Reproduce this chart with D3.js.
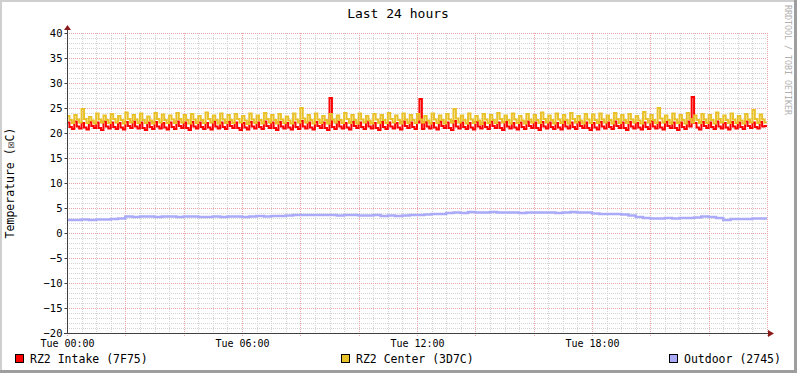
<!DOCTYPE html>
<html>
<head>
<meta charset="utf-8">
<script src="https://d3js.org/d3.v7.min.js"></script>
<style>
  body { margin: 0; background: #fff; }
  svg text { font-family: "DejaVu Sans Mono", monospace; }
</style>
</head>
<body>
<div id="chart"></div>
<script>
// 5-minute samples starting Tue 00:00, three per ~15 min cycle
var centerVals = [
  23.4,22.6,22.0, 23.6,22.7,22.1, 24.8,22.8,22.0, 23.2,22.5,21.9, 23.9,22.7,22.1, 23.5,22.6,22.0,
  23.8,22.8,22.1, 23.4,22.6,21.9, 24.1,22.8,22.1, 23.6,22.7,22.0, 23.9,22.6,22.0, 23.3,22.5,21.9,
  24.0,22.8,22.1, 23.7,22.6,22.0, 23.5,22.7,22.0, 24.0,22.8,22.1, 23.6,22.6,21.9, 23.8,22.7,22.0,
  23.4,22.6,22.0, 24.1,22.8,22.1, 23.5,22.6,21.9, 23.9,22.7,22.0, 23.6,22.6,22.0, 23.8,22.8,22.1,
  23.4,22.5,21.8, 23.9,22.7,22.0, 23.5,22.6,21.9, 24.0,22.8,22.1, 23.6,22.6,21.9, 23.8,22.7,22.0,
  23.3,22.5,21.9, 23.9,22.7,22.1, 25.0,22.9,22.1, 23.6,22.6,21.9, 23.9,22.7,22.0, 23.4,22.6,21.9,
  23.8,22.7,22.1, 23.5,22.6,22.0, 24.0,22.8,22.0, 23.6,22.6,21.9, 23.9,22.7,22.1, 23.4,22.5,21.9,
  23.8,22.7,22.0, 23.6,22.6,22.0, 24.0,22.8,22.1, 23.5,22.6,21.9, 23.9,22.7,22.0, 23.6,22.6,22.0,
  23.8,22.7,22.1, 23.4,22.5,21.9, 23.9,22.7,22.0, 23.5,22.6,21.9, 23.8,22.7,22.1, 24.8,22.9,22.1,
  23.5,22.6,21.9, 23.9,22.7,22.0, 23.4,22.5,21.8, 23.8,22.7,22.0, 23.6,22.6,22.0, 24.0,22.8,22.1,
  23.5,22.6,21.9, 23.9,22.7,22.0, 23.4,22.5,21.9, 23.8,22.7,22.1, 23.6,22.6,22.0, 24.1,22.8,22.1,
  23.5,22.6,21.9, 23.9,22.7,22.0, 23.6,22.6,21.9, 24.0,22.8,22.1, 23.4,22.5,21.9, 23.8,22.7,22.0,
  23.7,22.6,22.0, 23.9,22.7,22.1, 23.5,22.6,21.9, 24.0,22.8,22.0, 23.6,22.6,22.0, 23.8,22.7,22.1,
  23.4,22.5,21.9, 24.2,22.8,22.1, 23.6,22.6,22.0, 25.0,22.9,22.1, 23.5,22.6,21.9, 23.9,22.7,22.0,
  23.6,22.6,21.9, 24.0,22.8,22.1, 23.5,22.6,22.0, 23.8,22.7,22.0, 23.6,22.6,21.9, 24.1,22.8,22.1,
  23.5,22.6,22.0, 23.9,22.7,22.0, 23.4,22.5,21.9, 23.8,22.7,22.1, 24.6,22.8,22.0, 23.7,22.7,22.1
];

var intakeVals = [
  22.1,21.2,20.8, 22.3,21.3,20.9, 22.0,21.1,20.7, 22.2,21.4,21.0, 22.1,21.0,20.6, 22.3,21.3,20.9,
  22.1,21.2,20.8, 22.0,21.1,20.7, 22.2,21.4,21.0, 22.3,21.3,20.9, 22.1,21.0,20.6, 22.1,21.2,20.8,
  22.2,21.3,20.9, 22.0,21.1,20.7, 22.1,21.2,20.8, 22.3,21.4,21.0, 22.1,21.0,20.6, 22.2,21.3,20.9,
  22.1,21.2,20.8, 22.0,21.1,20.7, 22.3,21.3,20.9, 22.1,21.2,20.8, 22.2,21.4,21.0, 22.1,21.0,20.6,
  22.0,21.1,20.7, 22.2,21.3,20.9, 22.1,21.2,20.8, 22.3,21.4,21.0, 22.1,21.0,20.6, 22.2,21.3,20.9,
  22.0,21.1,20.7, 22.1,21.2,20.8, 22.4,21.3,20.9, 22.1,21.1,20.7, 22.2,21.4,21.0, 22.1,21.0,20.6,
  27.0,21.2,20.8, 22.3,21.3,20.9, 22.0,21.1,20.7, 22.2,21.4,21.0, 22.1,21.2,20.8, 22.3,21.3,20.9,
  22.0,21.0,20.6, 22.2,21.2,20.8, 22.1,21.3,20.9, 22.0,21.1,20.7, 22.3,21.4,21.0, 22.1,21.2,20.8,
  22.1,26.8,20.8, 22.2,21.3,20.9, 22.0,21.1,20.7, 22.3,21.4,21.0, 22.1,21.0,20.6, 22.4,21.3,20.9,
  22.1,21.2,20.8, 22.0,21.1,20.7, 22.2,21.3,20.9, 22.1,21.2,20.8, 22.3,21.4,21.0, 22.1,21.0,20.6,
  22.2,21.3,20.9, 22.0,21.1,20.7, 22.1,21.2,20.8, 22.3,21.4,21.0, 22.1,21.0,20.6, 22.2,21.3,20.9,
  22.1,21.2,20.8, 22.0,21.1,20.7, 22.3,21.3,20.9, 22.1,21.2,20.8, 22.2,21.4,21.0, 22.1,21.0,20.6,
  22.0,21.1,20.7, 22.2,21.3,20.9, 22.1,21.2,20.8, 22.3,21.4,21.0, 22.1,21.0,20.6, 22.2,21.3,20.9,
  22.0,21.1,20.7, 22.1,21.2,20.8, 22.4,21.3,20.9, 22.1,21.1,20.7, 22.2,21.4,21.0, 22.1,21.0,20.6,
  22.1,21.2,20.8, 22.3,21.3,27.2, 22.0,21.1,20.7, 22.2,21.4,21.0, 22.1,21.2,20.8, 22.3,21.3,20.9,
  22.0,21.1,20.7, 22.2,21.3,20.9, 22.1,21.2,20.8, 22.3,21.4,21.0, 22.1,21.2,20.9, 22.2,21.3,21.4
];

// 15-minute samples
var outdoorVals = [
  2.6,2.6,2.7,2.6,2.7,2.7,2.8,2.9,
  3.3,3.2,3.3,3.3,3.2,3.3,3.3,3.2,3.3,3.3,3.2,3.2,3.3,
  3.2,3.3,3.3,3.2,3.3,3.4,3.3,3.4,3.4,3.5,3.6,3.6,
  3.6,3.6,3.6,3.6,3.5,3.6,3.6,3.5,3.5,3.6,3.4,3.5,3.4,
  3.5,3.6,3.6,3.7,3.8,3.8,4.0,
  4.1,4.0,4.2,4.1,4.1,4.2,4.1,4.1,4.1,4.0,4.1,4.1,4.1,4.1,4.0,4.1,4.2,4.1,4.1,3.9,
  3.8,3.8,3.8,3.7,3.5,3.2,
  3.0,2.9,2.9,3.0,2.9,3.0,3.0,3.1,
  3.3,3.2,3.0,
  2.6,
  2.8,2.8,2.8,2.9,2.9
];

var seriesNames = ["RZ2 Intake (7F75)", "RZ2 Center (3D7C)", "Outdoor (2745)"];
var seriesColors = ["#ff0000", "#e9c22a", "#aaaaf8"];
var yTicks = [-20, -15, -10, -5, 0, 5, 10, 15, 20, 25, 30, 35, 40];
var xTickHours = [0, 6, 12, 18];
var titleText = "Last 24 hours";
var yLabel = "Temperature (\u2612C)";

var W = 797, H = 373;
var pLeft = 67, pRight = 767, pTop = 33, pBottom = 333;
var t0 = new Date(2012, 0, 3, 0, 0); // a Tuesday
var t1 = d3.timeHour.offset(t0, 24);

var x = d3.scaleTime().domain([t0, t1]).range([pLeft, pRight]);
var y = d3.scaleLinear().domain([-20, 40]).range([pBottom, pTop]);

function toPoints(vals, minutes) {
  var pts = vals.map(function(v, i) {
    return { t: d3.timeMinute.offset(t0, i * minutes), v: v };
  });
  pts.push({ t: d3.timeMinute.offset(t0, vals.length * minutes), v: vals[vals.length - 1] });
  return pts;
}

var svg = d3.select("#chart").append("svg")
    .attr("width", W)
    .attr("height", H);

// background + shaded frame
svg.append("rect").attr("width", W).attr("height", H).attr("fill", "#ffffff");
svg.append("path").attr("d", "M0,0H" + W + "V2H2V" + H + "H0Z").attr("fill", "#cfcfcf");
svg.append("path").attr("d", "M" + W + ",0V" + H + "H0V" + (H - 3) + "H" + (W - 3) + "V0Z").attr("fill", "#9e9e9e");

// grid
var grid = svg.append("g").attr("shape-rendering", "crispEdges");
var minorY = d3.range(-20, 41, 1).filter(function(d) { return d % 5 !== 0; });
var minorX = d3.timeMinute.every(30).range(t0, d3.timeMinute.offset(t1, 1))
    .filter(function(d) { return d.getHours() % 2 !== 0 || d.getMinutes() !== 0; });
var majorX = d3.timeHour.every(2).range(t0, d3.timeMinute.offset(t1, 1));

grid.selectAll(".hminor").data(minorY).enter().append("line")
    .attr("x1", pLeft - 2).attr("x2", pRight)
    .attr("y1", function(d) { return Math.round(y(d)) + 0.5; })
    .attr("y2", function(d) { return Math.round(y(d)) + 0.5; })
    .attr("stroke", "#d4d4d4").attr("stroke-dasharray", "1,1");
grid.selectAll(".vminor").data(minorX).enter().append("line")
    .attr("x1", function(d) { return Math.round(x(d)) + 0.5; })
    .attr("x2", function(d) { return Math.round(x(d)) + 0.5; })
    .attr("y1", pTop).attr("y2", pBottom + 2)
    .attr("stroke", "#d4d4d4").attr("stroke-dasharray", "1,1");
grid.selectAll(".hmajor").data(yTicks).enter().append("line")
    .attr("x1", pLeft - 2).attr("x2", pRight)
    .attr("y1", function(d) { return Math.round(y(d)) + 0.5; })
    .attr("y2", function(d) { return Math.round(y(d)) + 0.5; })
    .attr("stroke", "#eaa6a6").attr("stroke-dasharray", "1,1");
grid.selectAll(".vmajor").data(majorX).enter().append("line")
    .attr("x1", function(d) { return Math.round(x(d)) + 0.5; })
    .attr("x2", function(d) { return Math.round(x(d)) + 0.5; })
    .attr("y1", pTop).attr("y2", pBottom + 3)
    .attr("stroke", "#eaa6a6").attr("stroke-dasharray", "1,1");

// series
var line = d3.line()
    .x(function(d) { return x(d.t); })
    .y(function(d) { return y(d.v); })
    .curve(d3.curveStepAfter);

var seriesData = [toPoints(intakeVals, 5), toPoints(centerVals, 5), toPoints(outdoorVals, 15)];
svg.append("g").selectAll("path").data(seriesData).enter().append("path")
    .attr("d", line)
    .attr("fill", "none")
    .attr("stroke", function(d, i) { return seriesColors[i]; })
    .attr("stroke-width", function(d, i) { return i === 2 ? 2.5 : 2; })
    .attr("stroke-linejoin", "miter");

// axes
var yAxis = d3.axisLeft(y).tickValues(yTicks).tickSize(3).tickPadding(2);
var gy = svg.append("g").attr("transform", "translate(" + (pLeft + 0.5) + ",0)").call(yAxis);
gy.select(".domain").remove();
gy.selectAll(".tick line").attr("stroke", "#404040");
gy.selectAll("text").attr("font-size", "10.5px").attr("fill", "#000");

var xAxis = d3.axisBottom(x)
    .tickValues(xTickHours.map(function(h) { return d3.timeHour.offset(t0, h); }))
    .tickSize(0).tickPadding(7)
    .tickFormat(d3.timeFormat("%a %H:%M"));
var gx = svg.append("g").attr("transform", "translate(0," + pBottom + ")").call(xAxis);
gx.select(".domain").remove();
gx.selectAll("text").attr("font-size", "10px").attr("fill", "#000");

svg.append("line").attr("x1", pLeft + 0.5).attr("x2", pLeft + 0.5).attr("y1", pBottom + 1).attr("y2", pTop - 5)
    .attr("stroke", "#404040").attr("shape-rendering", "crispEdges");
svg.append("line").attr("x1", pLeft - 3).attr("x2", pRight + 5).attr("y1", pBottom + 0.5).attr("y2", pBottom + 0.5)
    .attr("stroke", "#404040").attr("shape-rendering", "crispEdges");
svg.append("path").attr("d", "M" + (pLeft - 3) + "," + (pTop - 3) + "L" + (pLeft + 4) + "," + (pTop - 3) + "L" + (pLeft + 0.5) + "," + (pTop - 8) + "Z")
    .attr("fill", "#8b1a1a");
svg.append("path").attr("d", "M" + (pRight + 1) + "," + (pBottom - 3) + "L" + (pRight + 1) + "," + (pBottom + 4) + "L" + (pRight + 7) + "," + (pBottom + 0.5) + "Z")
    .attr("fill", "#8b1a1a");

// title and labels
svg.append("text").attr("x", 398).attr("y", 18).attr("text-anchor", "middle")
    .attr("font-size", "13px").attr("fill", "#000").text(titleText);
svg.append("text").attr("transform", "translate(14,183) rotate(-90)").attr("text-anchor", "middle")
    .attr("font-size", "11.5px").attr("fill", "#000").text(yLabel);
svg.append("text").attr("transform", "translate(785,5) rotate(90)").attr("text-anchor", "start")
    .attr("font-size", "8.3px").attr("fill", "#b0b0b0").text("RRDTOOL / TOBI OETIKER");

// legend
var legendX = [15, 341, 669];
var lg = svg.append("g").selectAll("g").data(seriesNames).enter().append("g")
    .attr("transform", function(d, i) { return "translate(" + legendX[i] + ",354)"; });
lg.append("rect").attr("x", 0.5).attr("y", 0.5).attr("width", 8).attr("height", 8)
    .attr("fill", function(d, i) { return seriesColors[i]; })
    .attr("stroke", "#000").attr("shape-rendering", "crispEdges");
lg.append("text").attr("x", 15).attr("y", 8.5).attr("font-size", "11.5px").attr("fill", "#000")
    .text(function(d) { return d; });
</script>
</body>
</html>
